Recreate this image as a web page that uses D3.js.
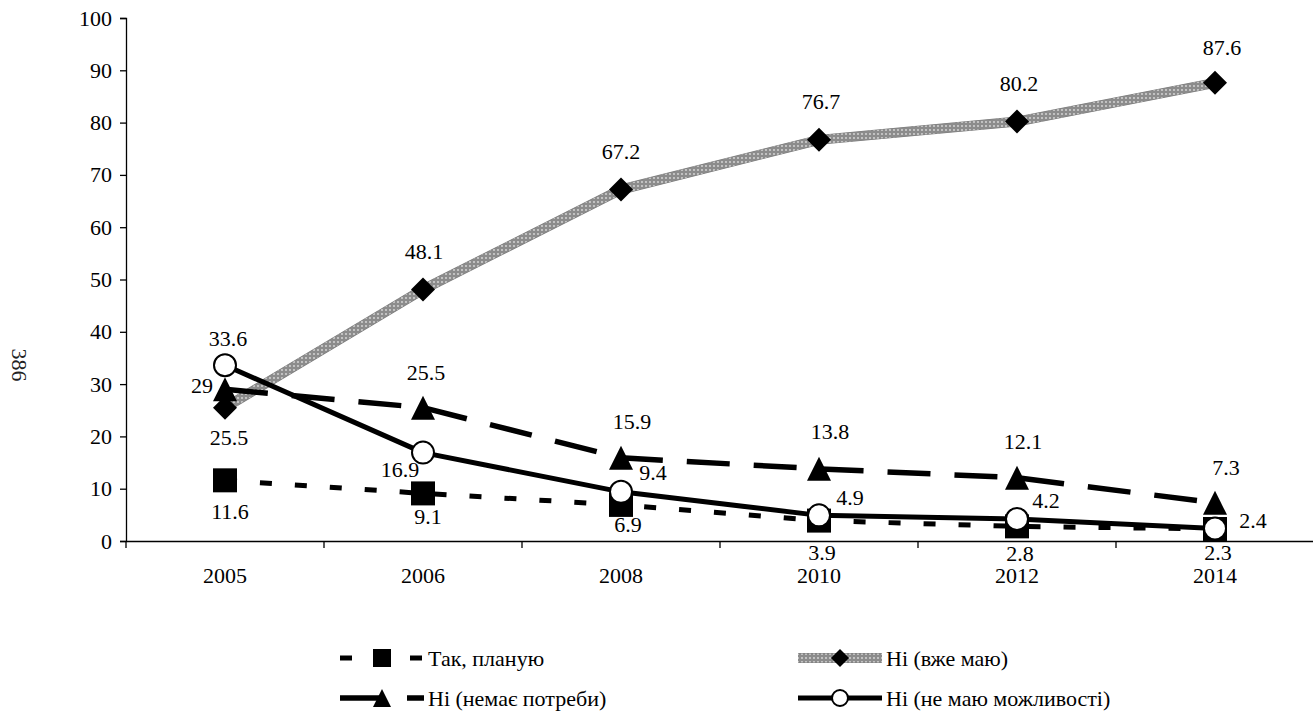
<!DOCTYPE html>
<html>
<head>
<meta charset="utf-8">
<script src="https://cdn.jsdelivr.net/npm/d3@7"></script>
<style>
  html, body { margin: 0; padding: 0; background: #fff; }
  svg { display: block; }
  svg text { font-family: "Liberation Serif", "Times New Roman", serif; }
</style>
</head>
<body>
<svg id="chart" width="1313" height="713"></svg>
<script>
// ---- data ----
const categories = ["2005", "2006", "2008", "2010", "2012", "2014"];
const seriesNames = ["Так, планую", "Ні (вже маю)", "Ні (немає потреби)", "Ні (не маю можливості)"];
const valuesPlanuyu = [11.6, 9.1, 6.9, 3.9, 2.8, 2.3];
const valuesVzheMayu = [25.5, 48.1, 67.2, 76.7, 80.2, 87.6];
const valuesNemaePotreby = [29, 25.5, 15.9, 13.8, 12.1, 7.3];
const valuesNeMayuMozhlyvosti = [33.6, 16.9, 9.4, 4.9, 4.2, 2.4];
const yTicks = [0, 10, 20, 30, 40, 50, 60, 70, 80, 90, 100];
const sideNote = "386";

// ---- layout / styles ----
const FONT = 22;
const svg = d3.select("#chart");
const x = d3.scaleBand().domain(categories).range([126, 1314]).padding(0);
const cx = c => x(c) + x.bandwidth() / 2;
const y = d3.scaleLinear().domain([0, 100]).range([541, 18]);

const defs = svg.append("defs");
const pat = defs.append("pattern").attr("id", "dots").attr("patternUnits", "userSpaceOnUse")
  .attr("width", 4).attr("height", 4);
pat.append("rect").attr("width", 4).attr("height", 4).attr("fill", "#8c8c8c");
pat.append("circle").attr("cx", 2).attr("cy", 2).attr("r", 0.9).attr("fill", "#dcdcdc");

const styles = [
  { values: valuesPlanuyu, stroke: "#000", width: 5, dash: "12 23", marker: "square" },
  { values: valuesVzheMayu, stroke: "url(#dots)", width: 9, dash: null, marker: "diamond", under: "#7a7a7a" },
  { values: valuesNemaePotreby, stroke: "#000", width: 5.5, dash: "43 24", marker: "triangle" },
  { values: valuesNeMayuMozhlyvosti, stroke: "#000", width: 5, dash: null, marker: "circle" }
];

// label offsets (dx, dy) relative to each marker
const labelOffsets = [
  [[5, 31], [5, 23], [7, 20], [3, 32], [3, 27], [3, 24]],
  [[4, 30], [1, -38], [0, -38], [2, -38], [2, -38], [7, -35]],
  [[-23, -4], [3, -35], [11, -36], [11, -37], [6, -36], [11, -35]],
  [[3, -27], [-23, 17], [32, -19], [31, -18], [29, -19], [38, -8]]
];

function markerPath(type, s) {
  const h = s / 2;
  if (type === "square") return `M${-h},${-h}H${h}V${h}H${-h}Z`;
  if (type === "diamond") return `M0,${-h}L${h},0L0,${h}L${-h},0Z`;
  if (type === "triangle") return `M0,${-h}L${h},${h}L${-h},${h}Z`;
  return null;
}
function drawMarker(g, type, px, py, s) {
  if (type === "circle") {
    g.append("circle").attr("cx", px).attr("cy", py).attr("r", s / 2 - 1)
      .attr("fill", "#fff").attr("stroke", "#000").attr("stroke-width", 2);
  } else {
    g.append("path").attr("d", markerPath(type, s))
      .attr("transform", `translate(${px},${py})`).attr("fill", "#000");
  }
}

// ---- axes ----
const yAxis = d3.axisLeft(y).tickValues(yTicks).tickSize(6).tickPadding(8).tickFormat(d3.format("d"));
const gy = svg.append("g").attr("transform", "translate(126,0)").call(yAxis);
gy.attr("font-family", null).attr("font-size", FONT);
gy.select(".domain").attr("stroke", "#000").attr("stroke-width", 1.3);
gy.selectAll(".tick line").attr("stroke", "#000").attr("stroke-width", 1.3);
gy.selectAll(".tick text").attr("fill", "#000");

const xAxis = d3.axisBottom(x).tickSize(0).tickPadding(26);
const gx = svg.append("g").attr("transform", "translate(0,541)").call(xAxis);
gx.attr("font-family", null).attr("font-size", FONT);
gx.select(".domain").attr("stroke", "#000").attr("stroke-width", 1.3);
gx.selectAll(".tick text").attr("fill", "#000");
const boundaries = categories.map(c => x(c)).concat([x(categories[categories.length - 1]) + x.bandwidth()]);
gx.selectAll(".btick").data(boundaries).enter().append("line")
  .attr("x1", d => d).attr("x2", d => d).attr("y1", 0).attr("y2", 7)
  .attr("stroke", "#000").attr("stroke-width", 1.3);

// ---- lines ----
const line = d3.line().x((d, i) => cx(categories[i])).y(d => y(d));
const linesG = svg.append("g");
styles.forEach(s => {
  if (s.under) {
    linesG.append("path").attr("d", line(s.values)).attr("fill", "none")
      .attr("stroke", s.under).attr("stroke-width", s.width + 1);
  }
  const p = linesG.append("path").attr("d", line(s.values)).attr("fill", "none")
    .attr("stroke", s.stroke).attr("stroke-width", s.width).attr("stroke-linejoin", "round");
  if (s.dash) p.attr("stroke-dasharray", s.dash);
});

// ---- markers ----
const markG = svg.append("g");
styles.forEach(s => {
  s.values.forEach((v, i) => drawMarker(markG, s.marker, cx(categories[i]), y(v), 24));
});

// ---- data labels ----
const labG = svg.append("g").attr("font-size", FONT).attr("fill", "#000").attr("text-anchor", "middle");
styles.forEach((s, si) => {
  s.values.forEach((v, i) => {
    const [dx, dy] = labelOffsets[si][i];
    labG.append("text").attr("x", cx(categories[i]) + dx).attr("y", y(v) + dy)
      .attr("dominant-baseline", "central").text(d3.format("")(v));
  });
});

// ---- legend ----
const legendItems = [
  { name: seriesNames[0], style: styles[0], x0: 340, y0: 658 },
  { name: seriesNames[1], style: styles[1], x0: 798, y0: 658 },
  { name: seriesNames[2], style: styles[2], x0: 340, y0: 698 },
  { name: seriesNames[3], style: styles[3], x0: 798, y0: 698 }
];
const legG = svg.append("g");
legendItems.forEach(it => {
  const s = it.style;
  const len = 84;
  if (s.under) {
    legG.append("line").attr("x1", it.x0).attr("x2", it.x0 + len).attr("y1", it.y0).attr("y2", it.y0)
      .attr("stroke", s.under).attr("stroke-width", s.width + 1);
  }
  const l = legG.append("line").attr("x1", it.x0).attr("x2", it.x0 + len).attr("y1", it.y0).attr("y2", it.y0)
    .attr("stroke", s.stroke).attr("stroke-width", s.width);
  if (s.dash) l.attr("stroke-dasharray", s.dash);
  drawMarker(legG, s.marker, it.x0 + 42, it.y0, 18);
  legG.append("text").attr("x", it.x0 + len + 4).attr("y", it.y0).attr("dominant-baseline", "central")
    .attr("font-size", FONT).attr("fill", "#000").text(it.name);
});

// ---- side page number ----
svg.append("text").attr("transform", "translate(19,365) rotate(90)").attr("text-anchor", "middle")
  .attr("dominant-baseline", "central").attr("font-size", FONT).attr("fill", "#222").text(sideNote);
</script>
</body>
</html>
